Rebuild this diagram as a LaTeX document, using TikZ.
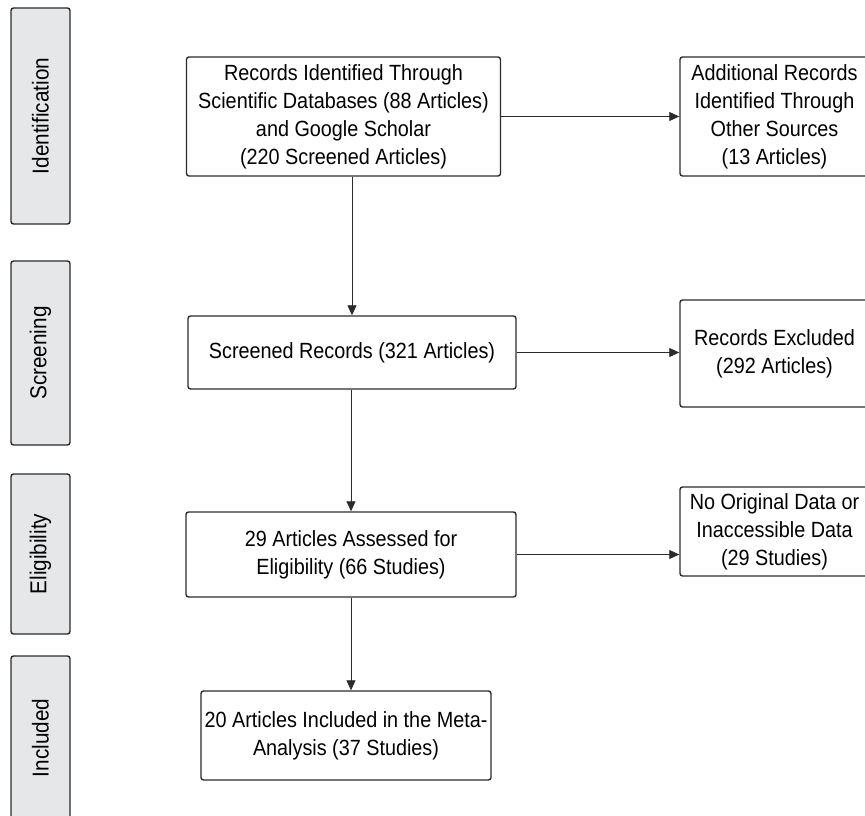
\documentclass[tikz,border=0pt]{standalone}
\usepackage{fontspec}
\setmainfont{Liberation Sans}[FakeStretch=0.9]
\usetikzlibrary{arrows.meta}

\definecolor{phasegray}{HTML}{E6E7E8}
\definecolor{linegray}{HTML}{2B2B2B}

\tikzset{
	phase/.style={draw=linegray, line width=1.4pt, fill=phasegray, rounded corners=2.5pt,
		minimum height=59pt, rotate=90, font=\fontsize{23}{26}\selectfont},
	record/.style={draw=linegray, line width=1.4pt, rounded corners=2.5pt, align=center,
		font=\fontsize{22}{28}\selectfont, inner sep=0pt},
	flow/.style={-{Triangle[length=10pt,width=9pt]}, line width=0.8pt, draw=linegray}
}

\begin{document}
\begin{tikzpicture}[x=1pt,y=1pt]
	\useasboundingbox (0,0) rectangle (865,-816);
	
	%phase labels
	\node[phase, minimum width=216pt] (ident) at (40.5,-116) {Identification};
	\node[phase, minimum width=184pt] (screen) at (40.5,-353) {Screening};
	\node[phase, minimum width=160pt] (elig) at (40.5,-554) {Eligibility};
	\node[phase, minimum width=164pt] (incl) at (40.5,-738) {Included};
	
	%main column
	\node[record, minimum width=314pt, minimum height=119pt] (found) at (343.5,-116.5)
		{Records Identified Through\\Scientific Databases (88 Articles)\\and Google Scholar\\(220 Screened Articles)};
	\node[record, minimum width=328pt, minimum height=73pt] (screened) at (352,-352.5)
		{Screened Records (321 Articles)};
	\node[record, minimum width=330pt, minimum height=85pt] (assessed) at (351,-554.5)
		{29 Articles Assessed for\\Eligibility (66 Studies)};
	\node[record, minimum width=290pt, minimum height=89pt] (meta) at (346,-735.5)
		{20 Articles Included in the Meta-\\Analysis (37 Studies)};
	
	%side column
	\node[record, minimum width=189pt, minimum height=119pt] (other) at (774.5,-116.5)
		{Additional Records\\Identified Through\\Other Sources\\(13 Articles)};
	\node[record, minimum width=189pt, minimum height=107pt] (excluded) at (774.5,-353.5)
		{Records Excluded\\(292 Articles)};
	\node[record, minimum width=189pt, minimum height=89pt] (nodata) at (774.5,-531.5)
		{No Original Data or\\Inaccessible Data\\(29 Studies)};
	
	%arrows down
	\draw[flow] (found.south -| screened.north) -- (screened.north);
	\draw[flow] (screened.south -| assessed.north) -- (assessed.north);
	\draw[flow] (assessed.south) -- (assessed.south |- meta.north);
	
	%arrows right
	\draw[flow] (found.east) -- (other.west);
	\draw[flow] (screened.east) -- (screened.east -| excluded.west);
	\draw[flow] (assessed.east) -- (assessed.east -| nodata.west);
\end{tikzpicture}
\end{document}
